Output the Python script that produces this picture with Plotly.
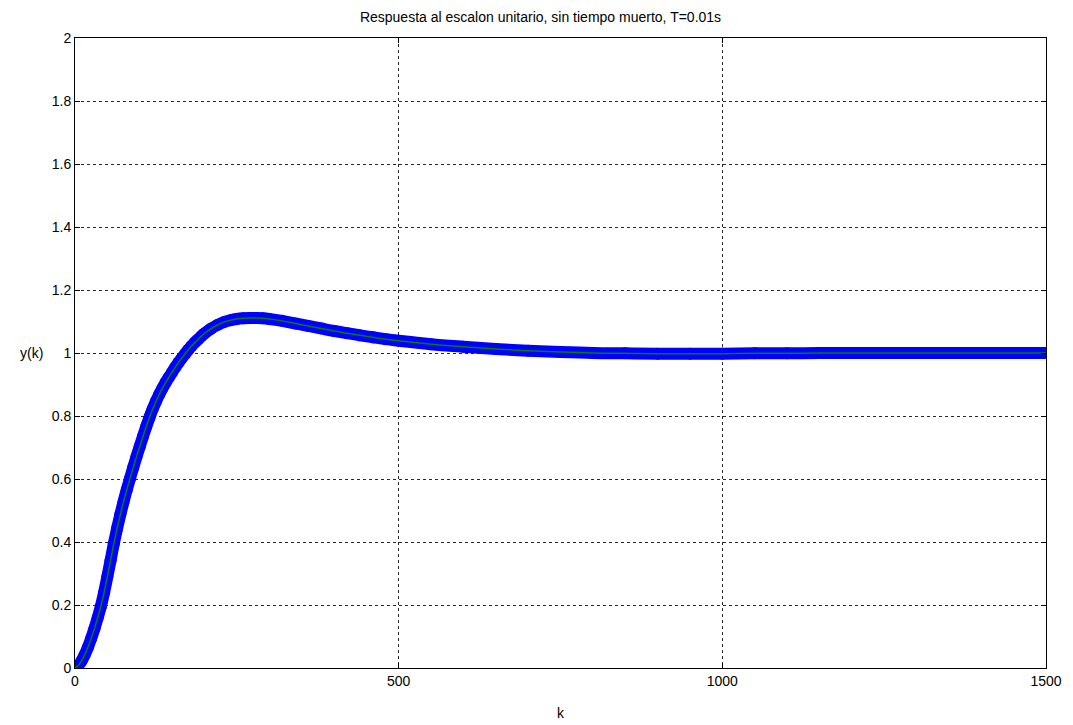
import plotly.graph_objects as go

# Sample index k and read response y(k)
k_vals = [0, 5, 10, 15, 20, 25, 30, 35, 40, 45, 50, 55, 60, 65, 70, 75, 80, 85, 90, 95,
          100, 105, 110, 115, 120, 125, 130, 135, 140, 145, 150, 155, 160, 165, 170, 175,
          180, 185, 190, 195, 200, 210, 220, 230, 240, 250, 260, 270, 280, 290, 300,
          320, 340, 360, 380, 400, 420, 440, 460, 480, 500, 550, 600, 650, 700, 750,
          800, 850, 900, 950, 1000, 1050, 1100, 1150, 1200, 1250, 1300, 1350, 1400, 1450, 1500]
y_vals = [0.000, 0.008, 0.022, 0.042, 0.066, 0.094, 0.125, 0.159, 0.196, 0.240, 0.290,
          0.342, 0.395, 0.443, 0.487, 0.528, 0.566, 0.602, 0.637, 0.671,
          0.703, 0.735, 0.766, 0.795, 0.822, 0.846, 0.868, 0.888, 0.906, 0.923, 0.939,
          0.955, 0.970, 0.984, 0.997, 1.010,
          1.022, 1.033, 1.043, 1.053, 1.062, 1.077, 1.089, 1.098, 1.104, 1.108, 1.110,
          1.111, 1.111, 1.110, 1.108,
          1.102, 1.094, 1.086, 1.078, 1.070, 1.063, 1.056, 1.050, 1.044, 1.039, 1.028,
          1.020, 1.013, 1.007, 1.003,
          1.000, 0.999, 0.998, 0.998, 0.998, 0.999, 0.999, 1.000, 1.000, 1.000, 1.000,
          1.000, 1.000, 1.000, 1.000]

title_text = "Respuesta al escalon unitario, sin tiempo muerto, T=0.01s"
x_ticks = [0, 500, 1000, 1500]
y_ticks = [0, 0.2, 0.4, 0.6, 0.8, 1, 1.2, 1.4, 1.6, 1.8, 2]
y_tick_text = ["0", "0.2", "0.4", "0.6", "0.8", "1", "1.2", "1.4", "1.6", "1.8", "2"]

FONT = "Liberation Sans, Arial, sans-serif"

fig = go.Figure()
# blue circle-marker band
fig.add_trace(go.Scatter(
    x=k_vals, y=y_vals, mode="lines+markers",
    line=dict(color="rgb(0,0,255)", width=12, shape="spline"),
    marker=dict(symbol="circle", size=12, color="rgb(0,0,255)"),
    showlegend=False, hoverinfo="skip"))
# green line
fig.add_trace(go.Scatter(
    x=k_vals, y=y_vals, mode="lines",
    line=dict(color="rgb(0,128,0)", width=1.5, shape="spline"),
    showlegend=False))

axis_common = dict(
    showline=True, linecolor="black", linewidth=1, mirror="ticks",
    ticks="inside", ticklen=5, tickcolor="black",
    showgrid=True, gridcolor="rgb(40,40,40)", gridwidth=1, griddash="3px,3px",
    zeroline=False, tickfont=dict(family=FONT, size=14, color="black"),
    automargin=False,
)

fig.update_xaxes(range=[0, 1500], tickvals=x_ticks, ticktext=[str(v) for v in x_ticks],
                 **axis_common)
fig.update_yaxes(range=[0, 2], tickvals=y_ticks, ticktext=y_tick_text, **axis_common)

fig.add_annotation(text="y(k)", xref="paper", yref="y", x=0, y=1, xanchor="right",
                   xshift=-30, showarrow=False,
                   font=dict(family=FONT, size=14, color="black"))
fig.add_annotation(text="k", xref="x", yref="paper", x=750, y=0, yanchor="middle",
                   yshift=-45, showarrow=False,
                   font=dict(family=FONT, size=14, color="black"))

fig.update_layout(
    width=1065, height=717,
    paper_bgcolor="white", plot_bgcolor="white",
    margin=dict(l=67, r=27, t=30, b=57),
    title=dict(text=title_text, x=0.5, xanchor="center", y=0.994, yanchor="top",
               font=dict(family=FONT, size=14, color="black")),
)

fig.write_html("out.html")
